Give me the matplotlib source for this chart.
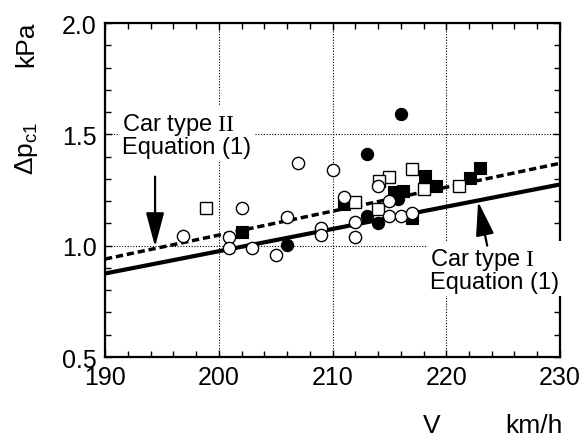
import matplotlib
matplotlib.use('Agg')
import matplotlib.pyplot as plt
from matplotlib.ticker import MultipleLocator

plt.rcParams['font.family'] = ['Liberation Sans', 'DejaVu Sans']
plt.rcParams['mathtext.fontset'] = 'custom'
plt.rcParams['mathtext.rm'] = 'Liberation Serif'

# Equation (1) lines for the two car types
eq_x = [190, 230]
eq_type1 = [0.875, 1.275]
eq_type2 = [0.94, 1.37]

# measured points (V km/h, dp kPa)
open_circle_v = [196.9, 200.9, 200.9, 202.9, 205.0, 202.0, 207.0, 210.0, 206.0, 209.0,
                 209.0, 211.0, 212.0, 212.0, 214.0, 215.0, 215.0, 216.0, 217.0]
open_circle_p = [1.043, 1.04, 0.99, 0.99, 0.96, 1.17, 1.37, 1.34, 1.127, 1.08,
                 1.05, 1.22, 1.105, 1.04, 1.27, 1.20, 1.135, 1.135, 1.145]

filled_circle_v = [206.0, 213.0, 214.0, 213.0, 216.0, 215.8]
filled_circle_p = [1.005, 1.135, 1.10, 1.41, 1.59, 1.21]

open_square_v = [198.9, 212.0, 214.0, 215.0, 214.1, 217.0, 218.0, 221.1]
open_square_p = [1.17, 1.195, 1.165, 1.31, 1.29, 1.345, 1.255, 1.27]

filled_square_v = [202.0, 211.0, 215.4, 216.2, 218.1, 219.1, 217.0, 222.1, 223.0]
filled_square_p = [1.06, 1.185, 1.24, 1.245, 1.315, 1.27, 1.125, 1.305, 1.35]

fig = plt.figure(figsize=(5.87, 4.39), dpi=100)
ax = fig.add_axes([0.1789, 0.1845, 0.954 - 0.1789, 0.9453 - 0.1845])

ax.plot(eq_x, eq_type1, color='black', lw=3.0, solid_capstyle='butt', zorder=2)
ax.plot(eq_x, eq_type2, color='black', lw=2.5, linestyle=(0, (2.1, 1.1)), zorder=2)

ms = 8.8
ax.plot(filled_square_v, filled_square_p, 's', ms=ms, mfc='black', mec='black', mew=0.8, zorder=3)
ax.plot(filled_circle_v, filled_circle_p, 'o', ms=ms, mfc='black', mec='black', mew=0.8, zorder=3)
ax.plot(open_square_v, open_square_p, 's', ms=ms, mfc='white', mec='black', mew=1.0, zorder=4)
ax.plot(open_circle_v, open_circle_p, 'o', ms=ms, mfc='white', mec='black', mew=1.0, zorder=4)

ax.set_xlim(190, 230)
ax.set_ylim(0.5, 2.0)
ax.xaxis.set_major_locator(MultipleLocator(10))
ax.xaxis.set_minor_locator(MultipleLocator(2))
ax.yaxis.set_major_locator(MultipleLocator(0.5))
ax.yaxis.set_minor_locator(MultipleLocator(0.1))
ax.xaxis.set_major_formatter(plt.FuncFormatter(lambda v, p: f"{v:.0f}"))
ax.yaxis.set_major_formatter(plt.FuncFormatter(lambda v, p: f"{v:.1f}"))
ax.tick_params(which='both', direction='in', top=True, right=True, width=1.0)
ax.tick_params(which='major', length=5, labelsize=18, pad=6)
ax.tick_params(which='minor', length=4)
for s in ax.spines.values():
    s.set_linewidth(1.6)
ax.grid(True, which='major', color='black', linestyle=(0, (1, 1.5)), lw=0.8)

# labels
fig.text(0.045, (439 - 148) / 439, r'$\mathregular{\Delta p_{c1}}$', rotation=90,
         fontsize=19, ha='center', va='center')
fig.text(0.045, (439 - 44) / 439, 'kPa', rotation=90, fontsize=19, ha='center', va='center')
fig.text(431.7 / 587, (439 - 426) / 439, 'V', fontsize=19, ha='center', va='center')
fig.text(534 / 587, (439 - 426) / 439, 'km/h', fontsize=19, ha='center', va='center')

# annotations
box = dict(facecolor='white', edgecolor='none', pad=2)
ax.text(191.5, 1.605, 'Car type $\\mathrm{II}$\nEquation (1)', fontsize=17, ha='left', va='top',
        linespacing=0.95, bbox=box, zorder=5)
ax.text(218.6, 1.0, 'Car type $\\mathrm{I}$\nEquation (1)', fontsize=17, ha='left', va='top',
        linespacing=0.95, bbox=box, zorder=5)

arrow = dict(arrowstyle='-|>,head_length=1.05,head_width=0.28', mutation_scale=20,
             color='black', lw=1.6, shrinkA=0, shrinkB=0)
ax.annotate('', xy=(194.4, 0.995), xytext=(194.4, 1.31), arrowprops=arrow, zorder=6)
ax.annotate('', xy=(222.8, 1.198), xytext=(223.6, 1.0), arrowprops=arrow, zorder=6)

fig.savefig('out.png', dpi=100)
